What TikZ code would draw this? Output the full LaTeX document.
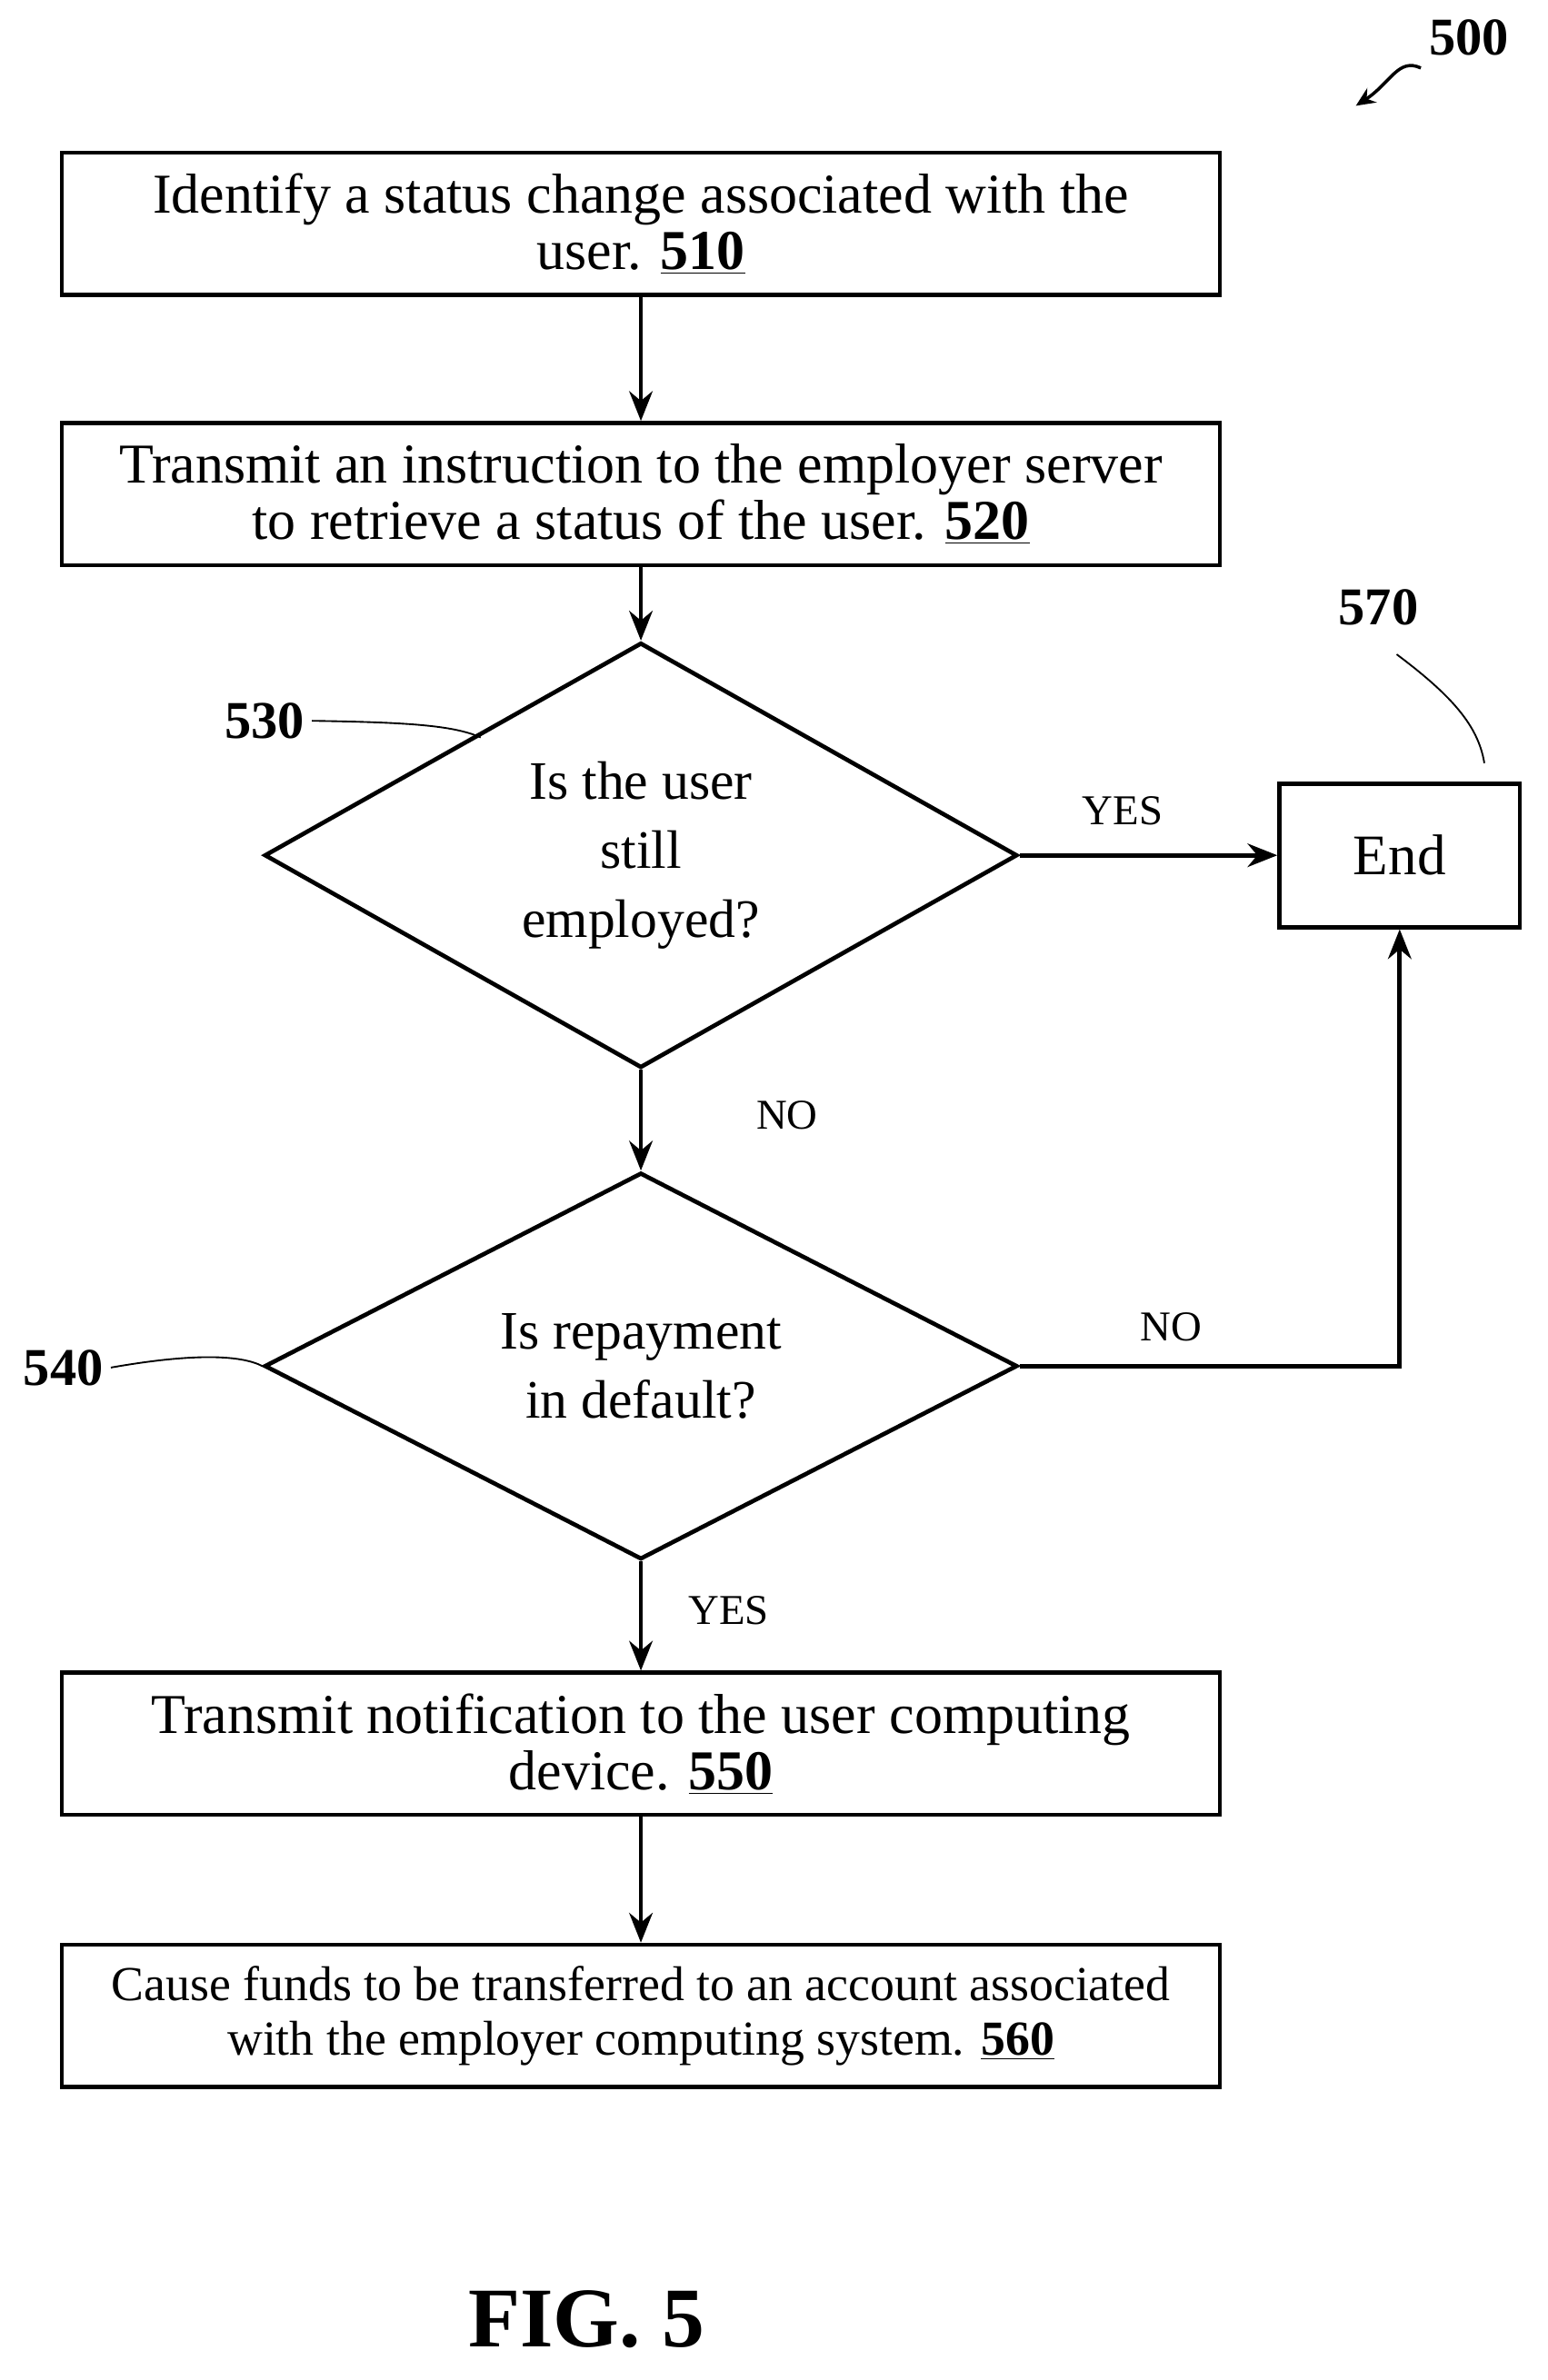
\documentclass[tikz,border=0pt]{standalone}
\usepackage{fontspec}
\setmainfont{Liberation Serif}
\usetikzlibrary{shapes.geometric,arrows.meta}
\begin{document}
\begin{tikzpicture}[x=0.025cm,y=-0.025cm,
 box/.style={draw,line width=2pt,minimum width=19.15cm,minimum height=2.35cm,align=center,inner sep=0pt,font=\fontsize{26.5}{26.5}\selectfont},
 dia/.style={draw,diamond,line width=2pt,minimum width=12.45cm,minimum height=6.325cm,inner sep=0pt,align=center,font=\fontsize{25.5}{32.5}\selectfont},
 arr/.style={line width=2pt,-{Stealth[length=14pt,width=11pt]}},
 lab/.style={font=\fontsize{20}{22}\selectfont},
 num/.style={font=\bfseries\fontsize{25}{28}\selectfont},
 lead/.style={line width=0.8pt}]
\useasboundingbox (0,0) rectangle (1024,1575);
\node[box] (b510) at (424,148) {Identify a status change associated with the\\user. \underline{\textbf{510}}};
\node[box] (b520) at (424,327) {Transmit an instruction to the employer server\\to retrieve a status of the user. \underline{\textbf{520}}};
\node[dia] (d530) at (424,566) {Is the user\\still\\employed?};
\node[draw,line width=2pt,minimum width=3.975cm,minimum height=2.375cm,font=\fontsize{27}{28}\selectfont] (end) at (926,566) {End};
\node[dia] (d540) at (424,904) {Is repayment\\in default?};
\node[box] (b550) at (424,1154) {Transmit notification to the user computing\\device. \underline{\textbf{550}}};
\node[box,font=\fontsize{23}{26}\selectfont] (b560) at (424,1334) {Cause funds to be transferred to an account associated\\with the employer computing system. \underline{\textbf{560}}};
\draw[arr] (b510) -- (b520);
\draw[arr] (b520) -- (d530);
\draw[arr] (d530.east) -- (end.west) node[lab,pos=0.4,above=10pt] {YES};
\draw[arr] (d530) -- (d540) node[lab,pos=0.45,right=50pt] {NO};
\draw[arr] (d540.east) -| (end.south);
\node[lab] (no2) at (775,878) {NO};
\draw[arr] (d540) -- (b550) node[lab,pos=0.45,right=18pt] {YES};
\draw[arr] (b550) -- (b560);
\node[num] (n500) at (972,25) {500};
\coordinate (a500) at (940,45);
\draw[line width=1.5pt,-{Stealth[length=9pt,width=8pt]}] (a500) .. controls (925,38) and (920,55) .. (897,70);
\node[num] (n530) at (175,477) {530};
\draw[lead] (n530.east) .. controls (270,478) and (300,480) .. (318,488);
\node[num] (n540) at (42,905) {540};
\draw[lead] (n540.east) .. controls (130,895) and (160,897) .. (d540.west);
\node[num] (n570) at (912,402) {570};
\draw[lead] (924,433) .. controls (960,460) and (978,480) .. (982,505);
\node[font=\bfseries\fontsize{40}{44}\selectfont] (fig) at (388,1535) {FIG. 5};
\end{tikzpicture}
\end{document}
